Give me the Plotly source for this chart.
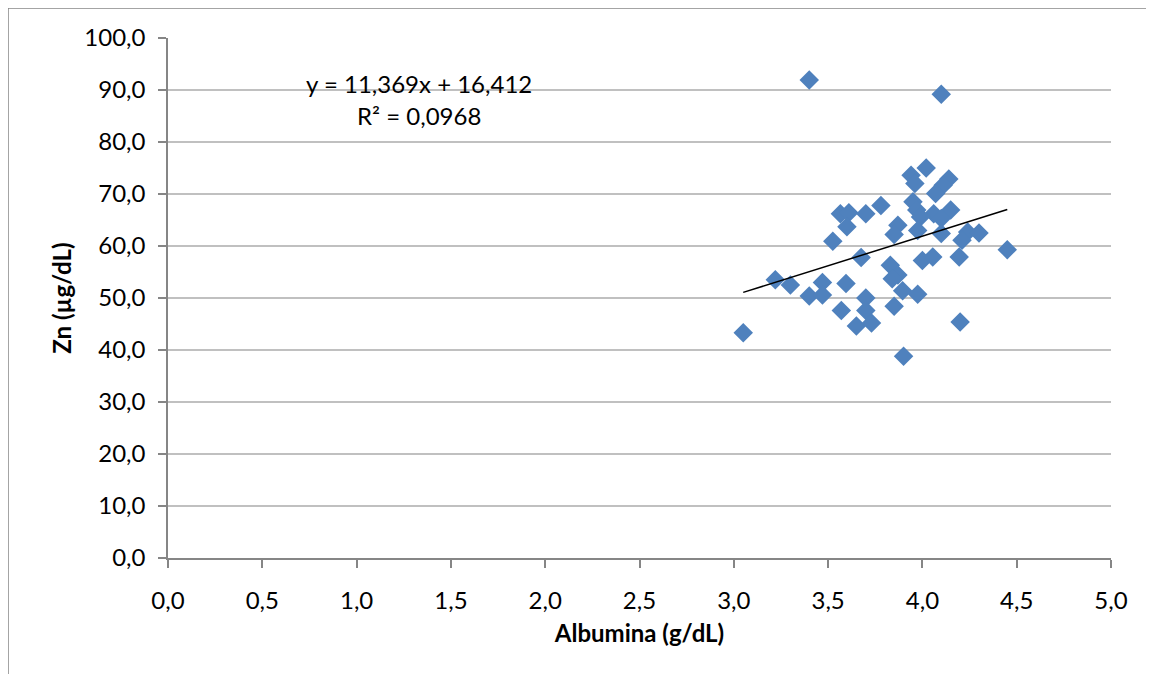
import plotly.graph_objects as go

albumina = [3.40, 4.10, 4.02, 3.94, 3.96, 4.14, 4.11, 4.07, 3.78, 3.95,
            3.97, 4.06, 4.15, 3.99, 4.10, 3.87, 3.85, 3.975, 4.10, 4.24,
            4.30, 4.21, 3.565, 3.61, 3.60, 3.70, 3.525, 3.675, 3.83, 3.87,
            3.84, 3.895, 3.975, 4.00, 4.055, 4.195, 4.45, 3.85, 3.70, 3.70,
            3.57, 3.65, 3.73, 4.20, 3.22, 3.30, 3.47, 3.40, 3.47, 3.595,
            3.05, 3.90]
zinco = [91.9, 89.2, 75.0, 73.6, 72.0, 72.9, 71.7, 70.1, 67.8, 68.5,
         66.9, 66.2, 66.9, 65.6, 65.3, 64.0, 62.2, 63.0, 62.4, 62.7,
         62.5, 61.1, 66.2, 66.4, 63.7, 66.2, 60.9, 57.8, 56.3, 54.4,
         53.7, 51.4, 50.7, 57.2, 57.9, 57.9, 59.3, 48.4, 50.0, 47.6,
         47.6, 44.6, 45.2, 45.4, 53.5, 52.5, 53.0, 50.4, 50.6, 52.8,
         43.3, 38.8]

slope = 11.369
intercept = 16.412
trend_x = [min(albumina), max(albumina)]
trend_y = [slope * v + intercept for v in trend_x]

x_ticks = [0, 0.5, 1, 1.5, 2, 2.5, 3, 3.5, 4, 4.5, 5]
y_ticks = [0, 10, 20, 30, 40, 50, 60, 70, 80, 90, 100]

FONT = "Lato, 'Open Sans', sans-serif"
AXC = "#868686"
FS = 24

L, T, PW, PH = 160, 30, 943, 520
W, H = 1154, 674

fig = go.Figure()
fig.add_trace(go.Scatter(
    x=albumina, y=zinco, mode="markers",
    marker=dict(symbol="diamond", size=15, color="#4F81BD", line=dict(width=0)),
    showlegend=False, hoverinfo="x+y"))
fig.add_trace(go.Scatter(
    x=trend_x, y=trend_y, mode="lines",
    line=dict(color="black", width=1.5), showlegend=False, hoverinfo="skip"))

fig.update_layout(
    width=W, height=H,
    margin=dict(l=L, r=W - L - PW, t=T, b=H - T - PH, autoexpand=False),
    paper_bgcolor="white", plot_bgcolor="white",
    separators=",.",
    font=dict(family=FONT, size=FS, color="black"),
    xaxis=dict(range=[0, 5], tickvals=x_ticks, tickformat=".1f",
               showgrid=False, zeroline=False,
               showline=True, linecolor=AXC, linewidth=1.5,
               ticks="outside", ticklen=8, tickcolor=AXC, tickwidth=1.5,
               ticklabelstandoff=12,
               tickfont=dict(size=FS),
               title=dict(text="<b>Albumina (g/dL)</b>", font=dict(size=FS), standoff=13)),
    yaxis=dict(range=[0, 100], tickvals=y_ticks, tickformat=".1f",
               showgrid=True, gridcolor="#C0C0C0", gridwidth=1.5, zeroline=False,
               showline=True, linecolor=AXC, linewidth=1.5,
               ticks="outside", ticklen=8, tickcolor=AXC, tickwidth=1.5,
               ticklabelstandoff=8,
               tickfont=dict(size=FS),
               title=dict(text="<b>Zn (µg/dL)</b>", font=dict(size=FS), standoff=6)),
    annotations=[
        dict(x=1.331, y=91.3, xref="x", yref="y", showarrow=False,
             text="y = 11,369x + 16,412", font=dict(size=FS)),
        dict(x=1.331, y=85.1, xref="x", yref="y", showarrow=False,
             text="R² = 0,0968", font=dict(size=FS)),
    ],
    shapes=[
        dict(type="line", xref="paper", yref="paper",
             x0=(0 - L) / PW, x1=(0 - L) / PW,
             y0=(T + PH) / PH, y1=(T + PH - H) / PH,
             line=dict(color=AXC, width=1.5)),
        dict(type="line", xref="paper", yref="paper",
             x0=(0 - L) / PW, x1=(W - L) / PW,
             y0=(T + PH) / PH, y1=(T + PH) / PH,
             line=dict(color=AXC, width=1.5)),
    ],
)

fig.write_html("out.html")
